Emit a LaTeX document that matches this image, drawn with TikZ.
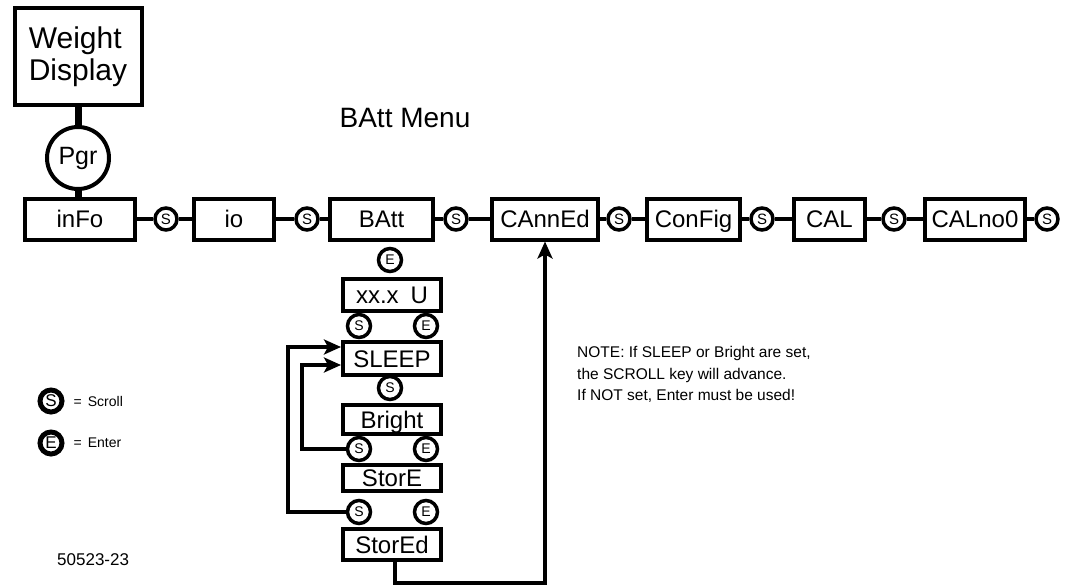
\documentclass[tikz,border=0pt]{standalone}
\usepackage{fontspec}
\setmainfont{Liberation Sans}
\usetikzlibrary{arrows.meta, positioning, calc}
\newcommand{\fsz}[1]{\fontsize{#1}{#1}\selectfont}

\begin{document}
\begin{tikzpicture}[
    x=1pt, y=-1pt, >={Stealth[length=17pt, width=15pt, inset=4pt]},
    disp/.style={draw, line width=4pt, inner sep=0pt, minimum height=41pt,
      text height=17pt, text depth=0pt, font=\fsz{24}},
    col/.style={draw, line width=4pt, inner sep=0pt, minimum width=98pt,
      text height=17pt, text depth=0pt, font=\fsz{24}},
    key/.style={circle, draw, line width=3.5pt, inner sep=0pt, minimum size=22pt, font=\fsz{15}},
    ckey/.style={key, minimum size=23pt, font=\fsz{14}},
    link/.style={line width=4pt},
    flow/.style={line width=4pt, ->},
  ]
  \useasboundingbox (0,0) rectangle (1069,586);
  % Einstieg
  \node[draw, line width=4pt, minimum width=127pt, minimum height=97pt, inner sep=0pt,
    align=left, font=\fontsize{30}{32}\selectfont] (wd) at (78,56.5) {Weight\\Display};
  \node[circle, draw, line width=4pt, minimum size=62pt, inner sep=0pt, font=\fsz{25}] (pgr) at (78,158) {Pgr};
  \node[font=\fsz{28}] (title) at (405,118) {BAtt Menu};
  % Hauptmenue
  \node[disp, minimum width=110pt] (info) at (80,219) {inFo};
  \node[disp, minimum width=80pt] (io) at (234,219) {io};
  \node[disp, minimum width=103pt] (batt) at (381.5,219) {BAtt};
  \node[disp, minimum width=106pt] (canned) at (545,219) {CAnnEd};
  \node[disp, minimum width=93pt] (config) at (693.5,219) {ConFig};
  \node[disp, minimum width=71pt] (cal) at (829.5,219) {CAL};
  \node[disp, minimum width=100pt] (calno) at (975,219) {CALno0};
  \node[key] (s1) at (166,219) {S};
  \node[key] (s2) at (307,219) {S};
  \node[key] (s3) at (456,219) {S};
  \node[key] (s4) at (619,219) {S};
  \node[key] (s5) at (762,219) {S};
  \node[key] (s6) at (894,219) {S};
  \node[key] (s7) at (1047,219) {S};
  \draw[line width=7pt] (wd) -- (pgr) -- (pgr |- info.north);
  \draw[link] (info) -- (s1) -- (io) -- (s2) -- (batt) -- (s3) -- (canned) -- (s4) -- (config)
    -- (s5) -- (cal) -- (s6) -- (calno) -- (s7);
  % BAtt Untermenue
  \def\cx{392}
  \node[ckey] (e0) at (390,260) {E};
  \node[col, minimum height=32pt] (xxu) at (\cx,295) {xx.x\hspace{12pt}U};
  \node[ckey] (s8) at (359,326) {S};
  \node[ckey] (e1) at (426,326) {E};
  \node[col, minimum height=33pt] (slp) at (\cx,358.5) {SLEEP};
  \node[ckey] (s9) at (390,388) {S};
  \node[col, minimum height=29pt] (brt) at (\cx,419.5) {Bright};
  \node[ckey] (s10) at (359,449) {S};
  \node[ckey] (e2) at (426,449) {E};
  \node[col, minimum height=26pt] (sto) at (\cx,478) {StorE};
  \node[ckey] (s11) at (359,512) {S};
  \node[ckey] (e3) at (426,512) {E};
  \node[col, minimum height=31pt] (std) at (\cx,544.5) {StorEd};
  \draw[flow] (s10.west) -- ++(-44,0) |- ([yshift=-6.5pt]slp.west);
  \draw[flow] (s11.west) -- ++(-58,0) |- ([yshift=11.5pt]slp.west);
  \draw[flow] ([xshift=3pt]std.south) -- ++(0,21) -| (canned.south);
  % Legende
  \node[key, line width=5pt, font=\fsz{17}] (ls) at (51,401) {S};
  \node[key, line width=5pt, font=\fsz{17}] (le) at (51,443) {E};
  \node[right=9pt of ls, inner sep=0pt, font=\fsz{14}] (lst) {=\hspace{6pt}Scroll};
  \node[right=9pt of le, inner sep=0pt, font=\fsz{14}] (let) {=\hspace{6pt}Enter};
  \node[anchor=west, inner sep=0pt, font=\fsz{17}] (fig) at (57,560) {50523-23};
  \node[anchor=base west, inner sep=0pt, align=left, font=\fontsize{15.5}{21.5}\selectfont] (note)
    at (577,400.5) {NOTE: If SLEEP or Bright are set,\\the SCROLL key will advance.\\If NOT set, Enter must be used!};
\end{tikzpicture}
\end{document}
